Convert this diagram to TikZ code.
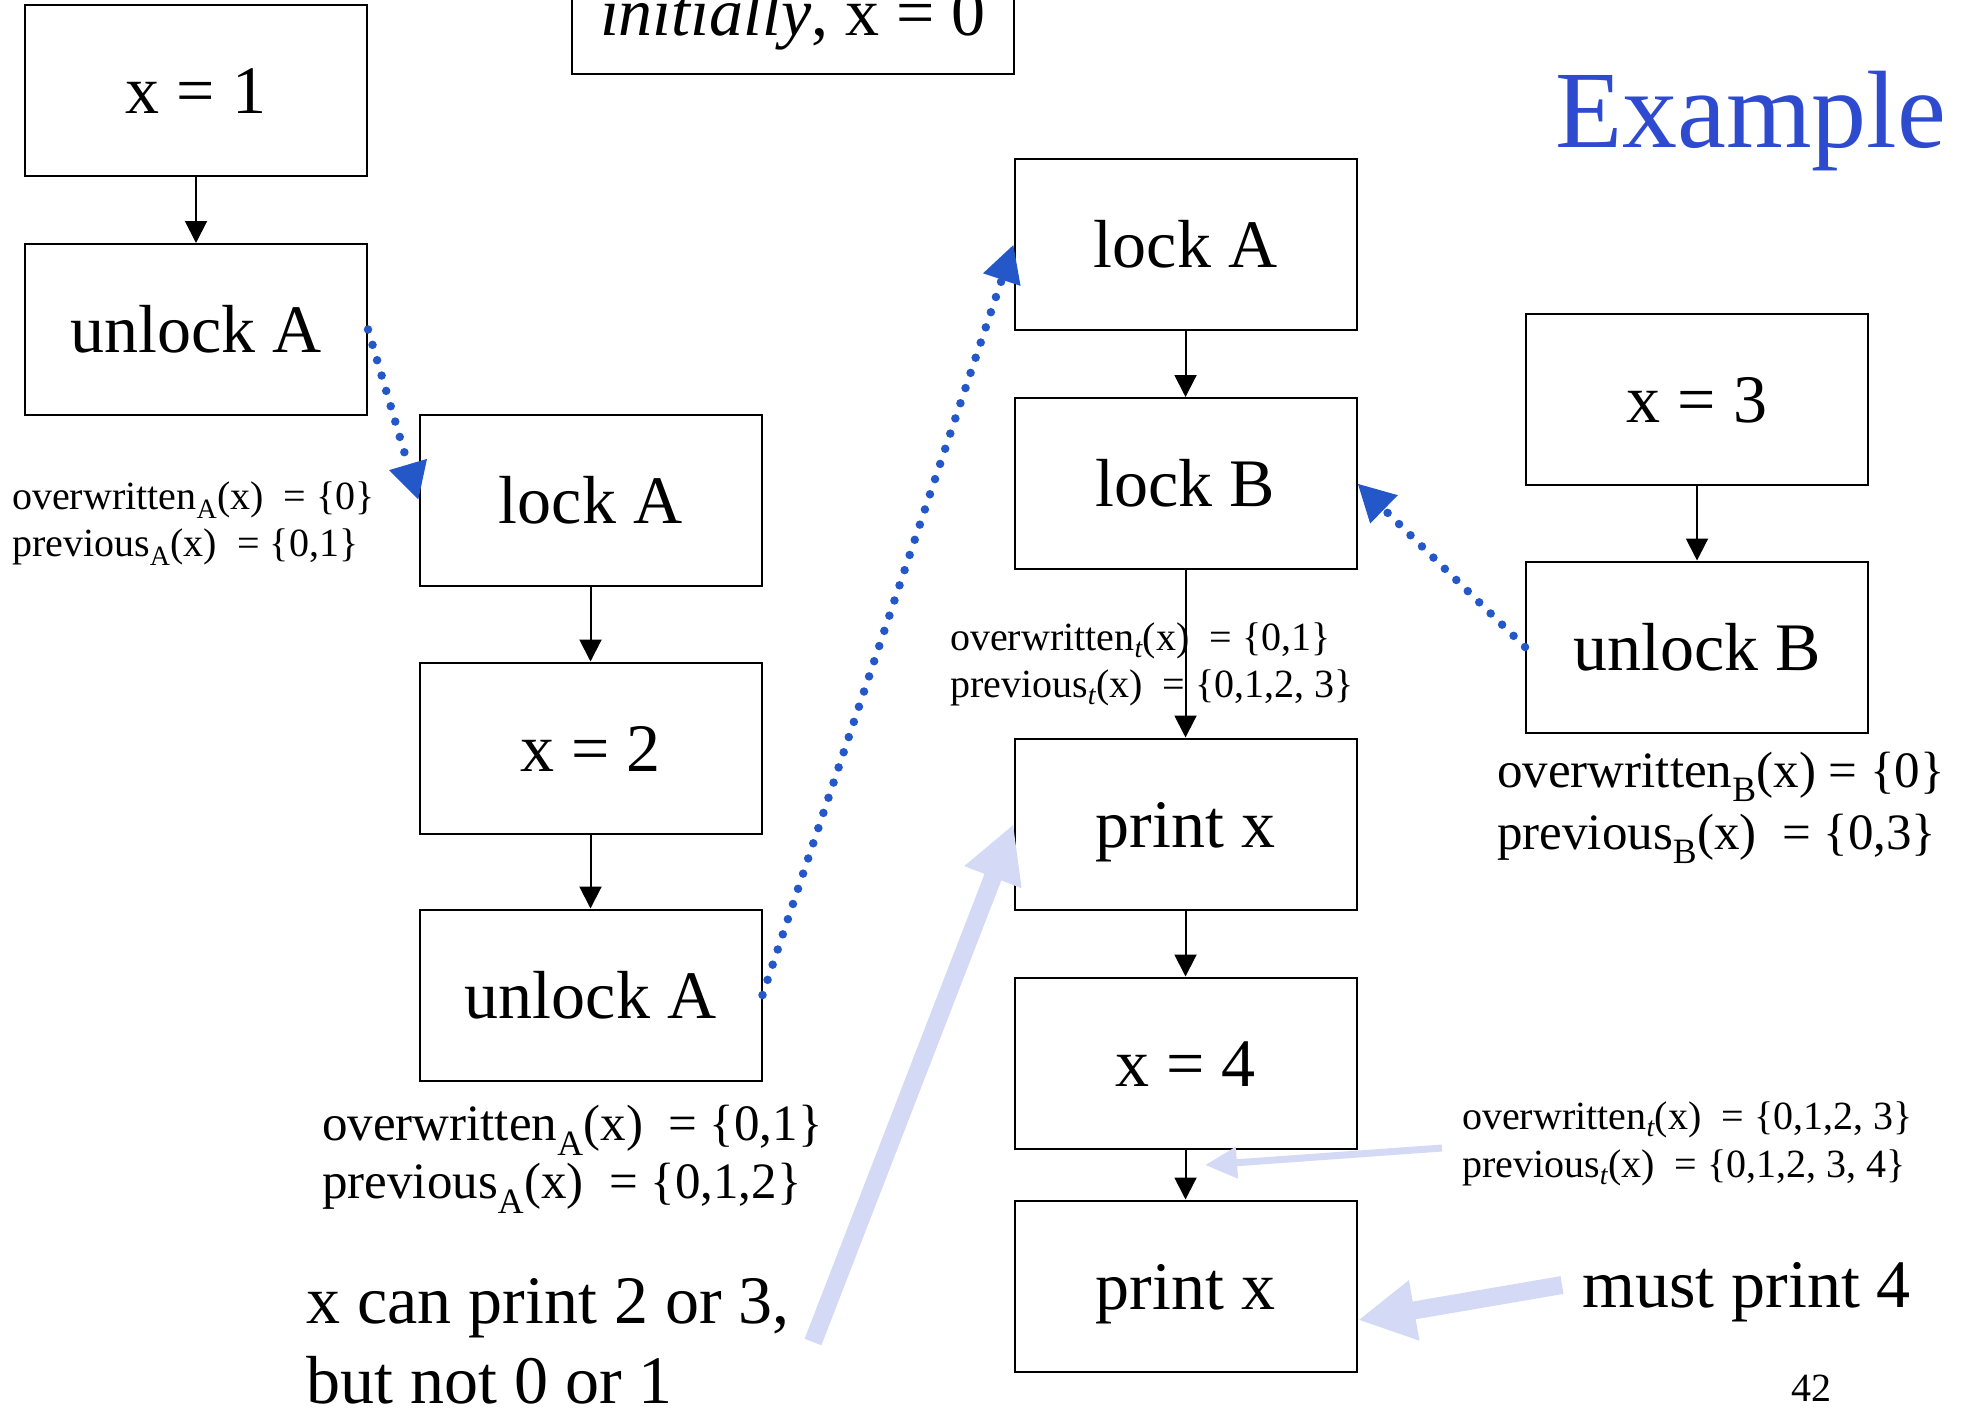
\documentclass[tikz,border=0pt]{standalone}
\usepackage{fontspec}
\setmainfont{Liberation Serif}
\usetikzlibrary{arrows.meta}
\definecolor{dotblue}{RGB}{36,88,200}
\definecolor{lightblue}{RGB}{212,218,245}
\definecolor{titleblue}{RGB}{46,75,208}
\begin{document}
\begin{tikzpicture}[x=1pt,y=-1pt,
  box/.style={draw, line width=2pt, minimum width=342pt, minimum height=171pt, inner sep=0pt,
    text height=46pt, text depth=0pt, font=\fontsize{68}{80}\selectfont},
  flow/.style={-{Triangle[length=22pt,width=22pt]}, line width=2pt},
  dotarrow/.style={dotblue, line width=8.5pt, line cap=round, dash pattern=on 0pt off 16pt,
    -{Triangle[length=37pt,width=37pt]}},
  hint/.style={lightblue, line width=18pt, -{Triangle[length=57pt,width=57pt]}},
  thinhint/.style={lightblue, line width=7pt, -{Triangle[length=32pt,width=30pt]}},
  small/.style={anchor=base west, inner sep=0pt, font=\fontsize{40}{47}\selectfont},
  medium/.style={anchor=base west, inner sep=0pt, font=\fontsize{51}{60}\selectfont},
  big/.style={anchor=base west, inner sep=0pt, font=\fontsize{68}{80}\selectfont}]

\useasboundingbox (0,0) rectangle (1961,1409);
\clip (0,0) rectangle (1961,1409);

% title
\node[anchor=base west, inner sep=0pt, text=titleblue, font=\fontsize{110}{130}\selectfont] (title) at (1555,147) {Example};

% initial box
\node[draw, line width=2pt, minimum width=442pt, minimum height=200pt, inner sep=0pt] (initbox) at (793,-26) {};
\node[big, anchor=base] (inittext) at (793,35) {\textit{initially}, x = 0};

% thread A, first part
\node[box] (x1) at (196,90.5) {x = 1};
\node[box] (ua1) at (196,329.5) {unlock A};
% thread A, second part
\node[box] (la2) at (590.5,500) {lock A};
\node[box] (x2) at (590.5,748) {x = 2};
\node[box] (ua2) at (590.5,995) {unlock A};
% thread t
\node[box] (la3) at (1185.5,244.5) {lock A};
\node[box] (lb) at (1185.5,483.5) {lock B};
\node[box] (px1) at (1185.5,824) {print x};
\node[box] (x4) at (1185.5,1063) {x = 4};
\node[box] (px2) at (1185.5,1286) {print x};
% thread B
\node[box] (x3) at (1697,399.5) {x = 3};
\node[box] (ub) at (1697,647) {unlock B};

% program order
\draw[flow] (x1) -- (ua1);
\draw[flow] (la2) -- (x2);
\draw[flow] (x2) -- (ua2);
\draw[flow] (la3) -- (lb);
\draw[flow] (lb) -- (px1);
\draw[flow] (px1) -- (x4);
\draw[flow] (x4) -- (px2);
\draw[flow] (x3) -- (ub);

% synchronisation
\draw[dotarrow] (ua1.east) -- (la2.west);
\draw[dotarrow] (ua2.east) -- (la3.west);
\draw[dotarrow] (ub.west) -- (lb.east);

% notes
\node[small] (n1a) at (12,509) {overwritten\textsubscript{A}(x)\ \ = \{0\}};
\node[small] (n1b) at (12,556) {previous\textsubscript{A}(x)\ \ = \{0,1\}};
\node[medium] (n2a) at (322,1140) {overwritten\textsubscript{A}(x)\ \ = \{0,1\}};
\node[medium] (n2b) at (322,1198) {previous\textsubscript{A}(x)\ \ = \{0,1,2\}};
\node[small] (n3a) at (950,650) {overwritten\textsubscript{\itshape t}(x)\ \ = \{0,1\}};
\node[small] (n3b) at (950,697) {previous\textsubscript{\itshape t}(x)\ \ = \{0,1,2, 3\}};
\node[medium] (n4a) at (1497,787) {overwritten\textsubscript{B}(x) = \{0\}};
\node[medium] (n4b) at (1497,849) {previous\textsubscript{B}(x)\ \ = \{0,3\}};
\node[small] (n5a) at (1462,1129) {overwritten\textsubscript{\itshape t}(x)\ \ = \{0,1,2, 3\}};
\node[small] (n5b) at (1462,1177) {previous\textsubscript{\itshape t}(x)\ \ = \{0,1,2, 3, 4\}};

\node[big] (c1) at (306,1323) {x can print 2 or 3,};
\node[big] (c2) at (306,1403) {but not 0 or 1};
\node[big] (must) at (1582,1307) {must print 4};
\node[small] (pg) at (1791,1401) {42};

% hint arrows
\coordinate (t4) at (813,1342);
\coordinate (t5) at (1442,1148);
\coordinate (h5) at (1205,1165);
\coordinate (t6) at (1562,1285);
\coordinate (h6) at (1358,1320);
\draw[hint] (t4) -- (px1.west);
\draw[thinhint] (t5) -- (h5);
\draw[hint] (t6) -- (h6);
\end{tikzpicture}
\end{document}
